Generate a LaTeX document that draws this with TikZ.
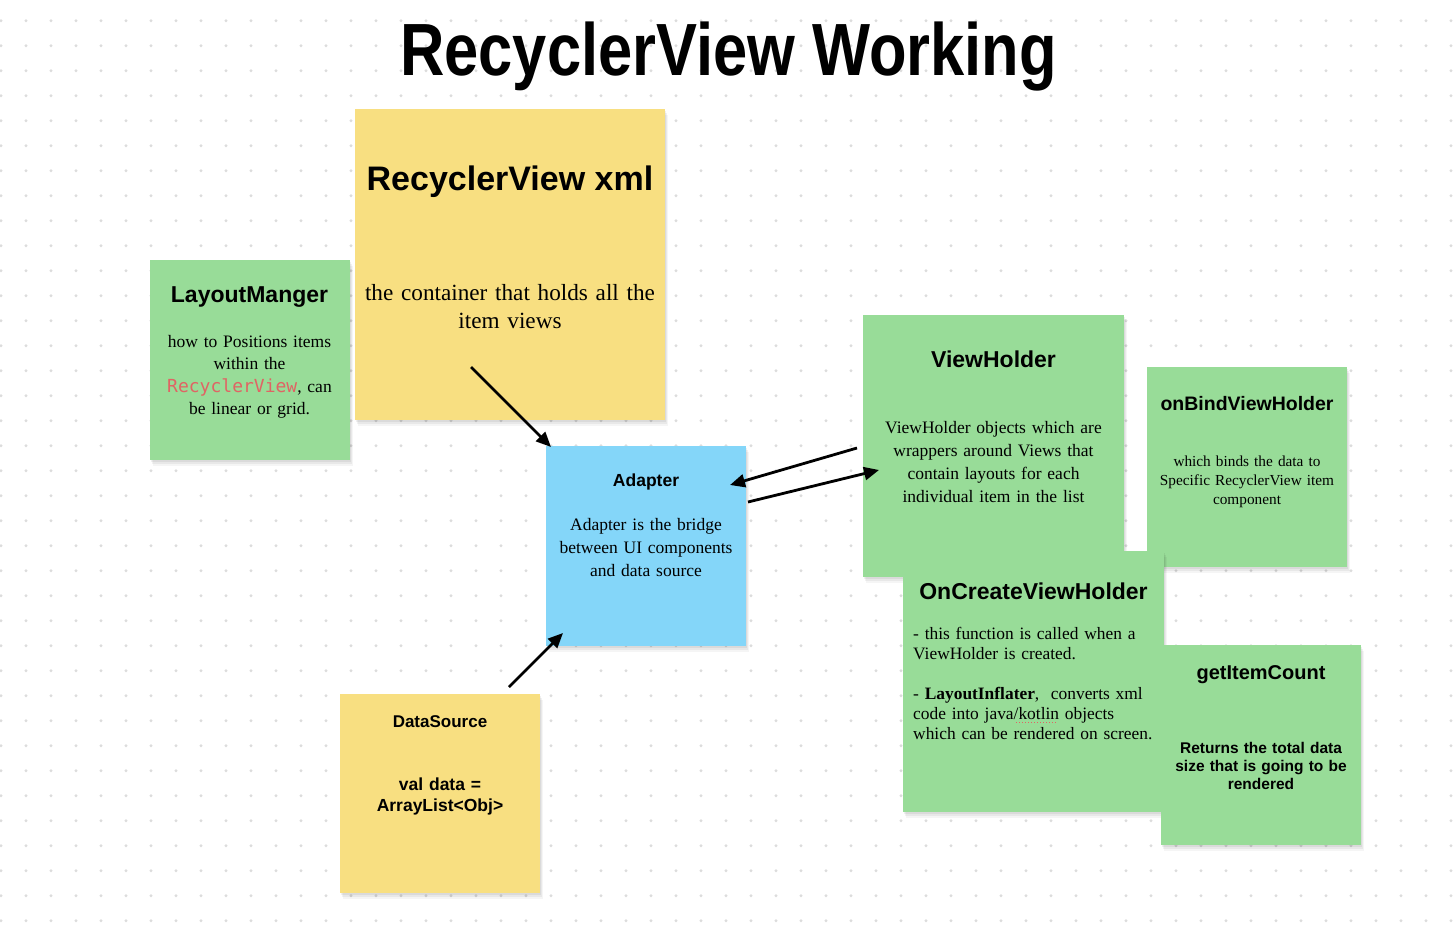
\documentclass[tikz,border=0pt]{standalone}
\usepackage{fontspec}
\setmainfont{Liberation Serif}
\setsansfont{Liberation Sans}
\newfontfamily\codefont{DejaVu Sans Mono}
\usetikzlibrary{arrows.meta,shadows,calc}
\definecolor{notey}{HTML}{F8DF81}
\definecolor{noteg}{HTML}{98DC98}
\definecolor{noteb}{HTML}{84D6F9}
\definecolor{dotc}{HTML}{DCDCDC}
\definecolor{codered}{HTML}{E06464}
\newcommand{\fsz}[2]{\fontsize{#1}{#2}\selectfont}
\tikzset{
  noteshadow/.style={
    general shadow={fill=black, opacity=0.06, shadow xshift=1pt, shadow yshift=-2pt},
    general shadow={fill=black, opacity=0.05, shadow xshift=2pt, shadow yshift=-4pt},
    general shadow={fill=black, opacity=0.04, shadow xshift=3pt, shadow yshift=-6pt}},
  note/.style={anchor=north west, inner sep=0pt, outer sep=0pt, draw=none, noteshadow},
  notehead/.style={anchor=base, inner sep=0pt, font=\sffamily\bfseries\fsz{#1}{#1}},
  notebody/.style={anchor=base, inner sep=0pt, align=center, text width=#1},
  conn/.style={line width=2.8pt, -{Triangle[length=15pt,width=13pt]}}
}
\begin{document}
\begin{tikzpicture}[x=1pt,y=-1pt]
\useasboundingbox (0,0) rectangle (1454,924);
\fill[white] (0,0) rectangle (1454,924);
% dotted canvas
\foreach \i in {0,...,58}{
  \foreach \j in {0,...,36}{
    \fill[dotc] (1+25*\i,20.7+25*\j) circle (1.6);
  }
}
% title
\node[anchor=base, inner sep=0pt, font=\sffamily\bfseries\fsz{74}{80}] (title) at (728.5,75.5) {\scalebox{0.83}[1]{RecyclerView Working}};

% notes
\node[note, fill=notey, minimum width=310pt, minimum height=311pt] (rvxml) at (355,109) {};
\node[note, fill=noteg, minimum width=200pt, minimum height=200pt] (layout) at (150,260) {};
\node[note, fill=noteb, minimum width=200pt, minimum height=200pt] (adapter) at (546,446) {};
\node[note, fill=noteg, minimum width=261pt, minimum height=262pt] (vholder) at (863,315) {};
\node[note, fill=noteg, minimum width=200pt, minimum height=200pt] (onbind) at (1147,367) {};
\node[note, fill=noteg, minimum width=261pt, minimum height=261pt] (oncreate) at (903,551) {};
\node[note, fill=noteg, minimum width=200pt, minimum height=200pt] (getcount) at (1161,645) {};
\node[note, fill=notey, minimum width=200pt, minimum height=199pt] (dsource) at (340,694) {};

% RecyclerView xml
\node[notehead=34] (rvxmlh) at (510,190) {RecyclerView xml};
\node[notebody=300pt, font=\fsz{23.2}{28}] (rvxmlb) at (510,300) {the container that holds all the\\item views};

% LayoutManger
\node[notehead=23] (layouth) at (249.5,302) {LayoutManger};
\node[notebody=190pt, font=\fsz{17.5}{22.5}] (layoutb) at (249.5,347) {how to Positions items\\within the\\{\codefont\fontsize{18}{22.5}\selectfont\color{codered}RecyclerView}, can\\be linear or grid.};

% Adapter
\node[notehead=17.5] (adapterh) at (646,486) {Adapter};
\node[notebody=190pt, font=\fsz{17.5}{23}] (adapterb) at (646,530) {Adapter is the bridge\\between UI components\\and data source};

% ViewHolder
\node[notehead=23] (vholderh) at (993.5,367) {ViewHolder};
\node[notebody=250pt, font=\fsz{17.5}{23}] (vholderb) at (993.5,433) {ViewHolder objects which are\\wrappers around Views that\\contain layouts for each\\individual item in the list};

% onBindViewHolder
\node[notehead=19.5] (onbindh) at (1247,410) {onBindViewHolder};
\node[notebody=195pt, font=\fsz{15.3}{19}] (onbindb) at (1247,466) {which binds the data to\\Specific RecyclerView item\\component};

% OnCreateViewHolder
\node[notehead=23] (oncreateh) at (1033.5,599.5) {OnCreateViewHolder};
\node[anchor=base west, inner sep=0pt, align=left, text width=250pt, font=\fsz{17.4}{20}] (oncreateb) at (913,639.5) {- this function is called when a\\ViewHolder is created.\\[20pt]- \textbf{LayoutInflater},\ \ converts xml\\code into java/kotlin objects\\which can be rendered on screen.};
\draw[codered, line width=1pt, dotted] (1016,722.5) -- (1058,722.5);

% getItemCount
\node[notehead=20] (getcounth) at (1261,679.5) {getItemCount};
\node[notebody=195pt, font=\sffamily\bfseries\fsz{15.5}{18}] (getcountb) at (1261,753) {Returns the total data\\size that is going to be\\rendered};

% DataSource
\node[notehead=17] (dsourceh) at (440,727) {DataSource};
\node[notebody=190pt, font=\sffamily\bfseries\fsz{17.5}{21}] (dsourceb) at (440,790) {val data =\\ArrayList<Obj>};

% connectors
\coordinate (a1s) at (471,367);
\coordinate (a1e) at ($(adapter.north west)+(5,1)$);
\coordinate (a2s) at ($(vholder.north west)+(-6,133)$);
\coordinate (a2e) at (730,485);
\coordinate (a3s) at ($(adapter.north east)+(2,56)$);
\coordinate (a3e) at (879,470);
\coordinate (a4s) at ($(dsource.north west)+(169,-7)$);
\coordinate (a4e) at ($(adapter.south west)+(17,-13)$);
\draw[conn] (a1s) -- (a1e);
\draw[conn] (a2s) -- (a2e);
\draw[conn] (a3s) -- (a3e);
\draw[conn] (a4s) -- (a4e);
\end{tikzpicture}
\end{document}
